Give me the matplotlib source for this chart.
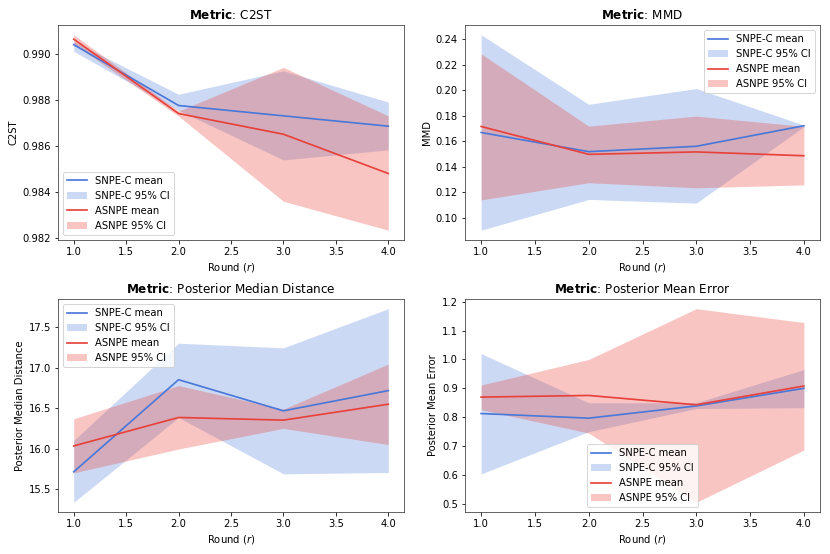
import matplotlib
matplotlib.use("Agg")
import matplotlib.pyplot as plt

rounds = [1.0, 2.0, 3.0, 4.0]

# C2ST
c2st_snpe_mean = [0.99041, 0.98776, 0.98731, 0.98686]
c2st_snpe_low = [0.99012, 0.98755, 0.98539, 0.98583]
c2st_snpe_high = [0.99055, 0.98825, 0.98927, 0.98791]
c2st_asnpe_mean = [0.99065, 0.98741, 0.98651, 0.98480]
c2st_asnpe_low = [0.99044, 0.98730, 0.98359, 0.98233]
c2st_asnpe_high = [0.99084, 0.98752, 0.98942, 0.98731]

# MMD
mmd_snpe_mean = [0.1669, 0.1519, 0.1561, 0.1722]
mmd_snpe_low = [0.0904, 0.1145, 0.1116, 0.1715]
mmd_snpe_high = [0.2434, 0.1890, 0.2013, 0.1727]
mmd_asnpe_mean = [0.1716, 0.1498, 0.1517, 0.1487]
mmd_asnpe_low = [0.1141, 0.1276, 0.1236, 0.1259]
mmd_asnpe_high = [0.2285, 0.1719, 0.1797, 0.1717]

# Posterior median distance
pmd_snpe_mean = [15.713, 16.852, 16.467, 16.717]
pmd_snpe_low = [15.336, 16.385, 15.688, 15.705]
pmd_snpe_high = [16.10, 17.303, 17.246, 17.730]
pmd_asnpe_mean = [16.033, 16.385, 16.352, 16.549]
pmd_asnpe_low = [15.700, 15.995, 16.250, 16.050]
pmd_asnpe_high = [16.369, 16.779, 16.488, 17.045]

# Posterior mean error
pme_snpe_mean = [0.8126, 0.7966, 0.8390, 0.9000]
pme_snpe_low = [0.6034, 0.7498, 0.8300, 0.8330]
pme_snpe_high = [1.0205, 0.8500, 0.8500, 0.9650]
pme_asnpe_mean = [0.8696, 0.8753, 0.8430, 0.9080]
pme_asnpe_low = [0.8260, 0.7450, 0.5050, 0.6860]
pme_asnpe_high = [0.9114, 1.0000, 1.1760, 1.1280]

BLUE = "#4a78d8"
RED = "#e8413a"

panels = [
    ("C2ST", "C2ST", c2st_snpe_mean, c2st_snpe_low, c2st_snpe_high,
     c2st_asnpe_mean, c2st_asnpe_low, c2st_asnpe_high, "lower left"),
    ("MMD", "MMD", mmd_snpe_mean, mmd_snpe_low, mmd_snpe_high,
     mmd_asnpe_mean, mmd_asnpe_low, mmd_asnpe_high, "upper right"),
    ("Posterior Median Distance", "Posterior Median Distance",
     pmd_snpe_mean, pmd_snpe_low, pmd_snpe_high,
     pmd_asnpe_mean, pmd_asnpe_low, pmd_asnpe_high, "upper left"),
    ("Posterior Mean Error", "Posterior Mean Error",
     pme_snpe_mean, pme_snpe_low, pme_snpe_high,
     pme_asnpe_mean, pme_asnpe_low, pme_asnpe_high, "lower center"),
]

# axes boxes in figure fractions: left, bottom, width, height
positions = [
    (58 / 830, 1 - 240 / 554, 346 / 830, 215 / 554),
    (465 / 830, 1 - 240 / 554, 355 / 830, 215 / 554),
    (58 / 830, 1 - 512 / 554, 346 / 830, 213 / 554),
    (465 / 830, 1 - 512 / 554, 355 / 830, 213 / 554),
]

plt.rcParams["axes.edgecolor"] = "#404040"

dpi = 72
fig = plt.figure(figsize=(830 / dpi, 554 / dpi), dpi=dpi)

for pos, (name, ylabel, sm, sl, sh, am, al, ah, loc) in zip(positions, panels):
    ax = fig.add_axes(pos)
    ax.plot(rounds, sm, color=BLUE, linewidth=1.7, label="SNPE-C mean")
    ax.fill_between(rounds, sl, sh, color=BLUE, alpha=0.28, linewidth=0,
                    label="SNPE-C 95% CI")
    ax.plot(rounds, am, color=RED, linewidth=1.7, label="ASNPE mean")
    ax.fill_between(rounds, al, ah, color=RED, alpha=0.3, linewidth=0,
                    label="ASNPE 95% CI")
    ax.set_title(r"$\bf{Metric}$: " + name)
    ax.set_xlabel("Round ($r$)")
    ax.set_ylabel(ylabel)
    ax.legend(loc=loc)

fig.savefig("out.png", dpi=dpi)
